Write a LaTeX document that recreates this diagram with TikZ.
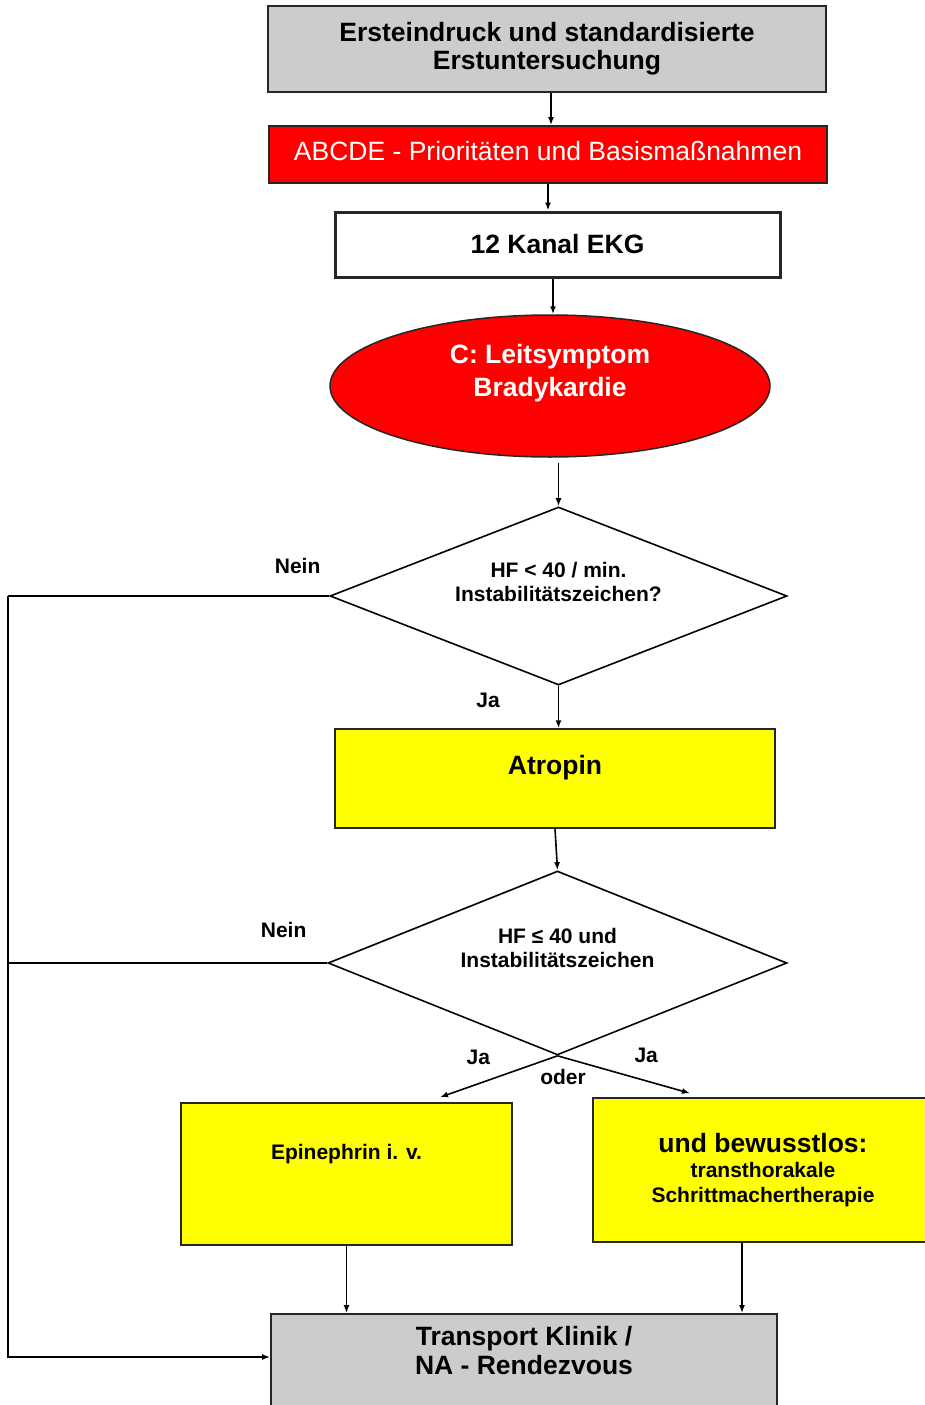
\documentclass[tikz,border=0pt]{standalone}
\usepackage{fontspec}
\setmainfont{Liberation Sans}
\usepackage{tikz}
\usetikzlibrary{arrows.meta,shapes.geometric,positioning}
\definecolor{boxgrey}{RGB}{204,204,204}
\definecolor{boxred}{RGB}{255,0,0}
\definecolor{boxyellow}{RGB}{255,255,0}

\begin{document}
\begin{tikzpicture}[x=1pt,y=-1pt,
  box/.style={draw=black!85,line width=1.8pt,inner sep=0pt,align=center,font=\fontsize{26.5}{28}\selectfont\bfseries},
  yellowbox/.style={box,fill=boxyellow,line width=1.5pt},
  decide/.style={draw,diamond,line width=1.6pt,inner sep=0pt},
  small/.style={font=\fontsize{21}{24}\selectfont\bfseries,align=center},
  lbl/.style={font=\fontsize{21}{24}\selectfont\bfseries,inner sep=0pt},
  arr/.style={line width=1.6pt,-{Latex[length=8pt,width=6pt]}},
  rail/.style={line width=1.6pt}]
\useasboundingbox (0,0) rectangle (925,1405);
\clip (0,0) rectangle (925,1405);
\fill[white] (0,0) rectangle (925,1405);
% top of the chart
\node[box,fill=boxgrey,minimum width=558pt,minimum height=86pt] (first) at (547,49) {Ersteindruck und standardisierte\\Erstuntersuchung};
\node[box,fill=boxred,text=white,font=\fontsize{26.5}{28}\selectfont,minimum width=558pt,minimum height=57pt] (abcde) at (548,154.5) {\raisebox{8pt}{ABCDE - Prioritäten und Basismaßnahmen}};
\node[box,fill=white,line width=3pt,minimum width=445pt,minimum height=65pt] (ekg) at (557.5,244.5) {\raisebox{-2pt}{12 Kanal EKG}};
\node[box,ellipse,fill=boxred,text=white,line width=1.5pt,minimum width=440pt,minimum height=142pt,
  label={[box,draw=none,text=white,font=\fontsize{26.5}{33}\selectfont\bfseries,yshift=13pt]center:C: Leitsymptom\\Bradykardie}] (brady) at (550,386) {};
% decisions and measures
\node[decide,minimum width=457pt,minimum height=178pt,
  label={[small,yshift=14pt]center:HF < 40 / min.\\Instabilitätszeichen?}] (hf1) at (558.5,596) {};
\node[yellowbox,minimum width=440pt,minimum height=99pt,
  label={[box,draw=none,yshift=11pt]center:Atropin}] (atropin) at (555,778.5) {};
\node[decide,minimum width=459pt,minimum height=184pt,
  label={[small,yshift=15pt]center:HF ≤ 40 und\\Instabilitätszeichen}] (hf2) at (557.5,963) {};
\node[yellowbox,minimum width=331pt,minimum height=142pt,
  label={[small,yshift=20pt]center:Epinephrin i. v.}] (epi) at (346.5,1174) {};
\node[yellowbox,minimum width=340pt,minimum height=144pt] (pacer) at (763,1170)
  {und bewusstlos:\\[-3pt]{\fontsize{21}{23}\selectfont transthorakale}\\[-3pt]{\fontsize{21}{23}\selectfont Schrittmachertherapie}};
\node[box,fill=boxgrey,minimum width=506pt,minimum height=100pt,
  label={[box,draw=none,font=\fontsize{26.5}{29}\selectfont\bfseries,yshift=13pt]center:Transport Klinik /\\NA - Rendezvous}] (transport) at (524,1364) {};
\coordinate (railtop) at (8,596);
\coordinate (railbot) at (8,1357);
% connectors
\draw[arr] ([xshift=4pt]first.south) -- ([xshift=4pt]first.south |- abcde.north);
\draw[arr] (abcde.south) -- (abcde.south |- ekg.north);
\draw[arr] ([xshift=-4.5pt]ekg.south) -- ([xshift=-4.5pt]ekg.south |- brady.north);
\draw[arr] ([yshift=-5pt]hf1.north |- brady.south) -- (hf1.north);
\draw[arr] (hf1.south) -- (hf1.south |- atropin.north) node[lbl,pos=0.35,left=58pt] {Ja};
\draw[arr] (atropin.south) -- (hf2.north);
\draw[arr] (hf2.south) -- ([xshift=93.5pt,yshift=5pt]epi.north) node[lbl,pos=0.1,above left=-6pt and 55pt] {Ja};
\draw[arr] (hf2.south) -- ([xshift=-73pt,yshift=4pt]pacer.north) node[lbl,pos=0.1,above right=-4pt and 63pt] {Ja};
\node[lbl] (oder) at (563,1077) {oder};
\draw[rail] (hf1.west) -- (railtop) node[lbl,pos=0,above left=22pt and 8pt] {Nein};
\draw[arr] (railtop) -- (railbot) -- (railbot -| transport.west);
\draw[rail] (hf2.west) -- (hf2.west -| railtop) node[lbl,pos=0,above left=25pt and 20pt] {Nein};
\draw[arr] (epi.south) -- (epi.south |- transport.north);
\draw[arr] ([xshift=-21pt]pacer.south) -- ([xshift=-21pt]pacer.south |- transport.north);
\end{tikzpicture}
\end{document}
